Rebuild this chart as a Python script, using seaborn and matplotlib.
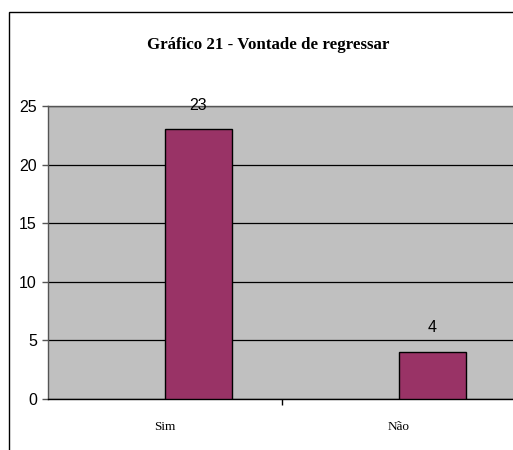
import pandas as pd
import seaborn as sns
import matplotlib.pyplot as plt
from matplotlib.patches import Rectangle

# Data
categorias = ['Sim', 'Não']
valores = [23, 4]
titulo = 'Gráfico 21 - Vontade de regressar'

df = pd.DataFrame({'resposta': categorias, 'total': valores})

sns.set_style('white')
plt.rcParams['font.family'] = ['Liberation Sans', 'DejaVu Sans']
plt.rcParams['text.color'] = 'black'
plt.rcParams['xtick.color'] = 'black'
plt.rcParams['ytick.color'] = 'black'

fig = plt.figure(figsize=(5.13, 4.5), dpi=100)
ax = fig.add_axes([48 / 513, 51 / 450, 468 / 513, 293 / 450])

bw = 0.285
sns.barplot(data=df, x='resposta', y='total', color='#993366', width=bw,
            saturation=1, edgecolor='black', linewidth=1, ax=ax, zorder=3)

# Excel-style: bar starts at the category centre
for p in ax.patches:
    p.set_x(p.get_x() + bw / 2)

ax.bar_label(ax.containers[0], padding=12, fontsize=11.5, color='black')

ax.set_facecolor('#C0C0C0')
ax.set_ylim(0, 25)
ax.set_xlim(-0.5, 1.5)
ax.set_yticks([0, 5, 10, 15, 20, 25])
ax.yaxis.grid(True, color='black', linewidth=0.9, zorder=1)
ax.set_axisbelow(True)
ax.tick_params(axis='y', which='major', length=4, width=1, color='#555555',
               labelcolor='black', labelsize=11.5, pad=4, direction='out', left=True)
ax.tick_params(axis='x', which='major', length=0, pad=16, labelcolor='black')
ax.set_xticks([0.5], minor=True)
ax.tick_params(axis='x', which='minor', length=4, width=1, direction='out',
               bottom=True, color='black')
for lbl in ax.get_xticklabels():
    lbl.set_family('Liberation Serif')
    lbl.set_fontsize(9.5)
ax.set_xlabel('')
ax.set_ylabel('')

for s in ['left', 'top']:
    ax.spines[s].set_color('#555555')
    ax.spines[s].set_linewidth(1)
ax.spines['bottom'].set_color('black')
ax.spines['bottom'].set_linewidth(1)
ax.spines['right'].set_visible(False)

fig.text(268 / 513, 1 - 45 / 450, titulo, ha='center', va='center',
         family='Liberation Serif', fontweight='bold', fontsize=12.2,
         color='black')

# outer chart frame
fig.patches.append(Rectangle((9 / 513, -0.1), 1.1, 1 - 12 / 450 + 0.1,
                             transform=fig.transFigure, fill=False,
                             edgecolor='black', linewidth=1))

fig.savefig('out.png', dpi=100)
